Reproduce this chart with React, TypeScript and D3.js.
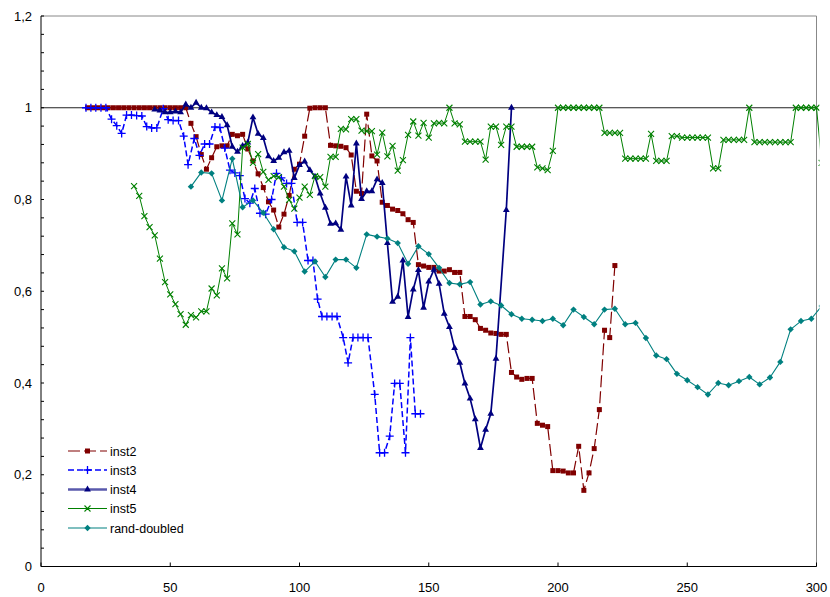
import React from 'react';
import * as d3 from 'd3';

type Pt = [number, number];

// axis ticks
const xTicks = [0, 50, 100, 150, 200, 250, 300];
const yTicks = [0, 0.2, 0.4, 0.6, 0.8, 1, 1.2];
const yTickLabels = ['0', '0,2', '0,4', '0,6', '0,8', '1', '1,2'];

// series values: [x, y]
const inst2: Pt[] = [
  [18, 1], [20, 1], [22, 1], [24, 1], [26, 1], [28, 1], [30, 1], [32, 1], [34, 1], [36, 1],
  [38, 1], [40, 1], [42, 1], [44, 1], [46, 1], [48, 1], [50, 1], [52, 1], [54, 1], [56, 1],
  [58, 0.966], [60, 0.937], [62, 0.898], [64, 0.866], [66, 0.891], [68, 0.915], [70, 0.917],
  [72, 0.917], [74, 0.942], [76, 0.939], [78, 0.942], [80, 0.91], [82, 0.884], [84, 0.856],
  [86, 0.826], [88, 0.795], [90, 0.777], [92, 0.74], [94, 0.768], [96, 0.809], [98, 0.866],
  [100, 0.877], [102, 0.938], [104, 0.999], [106, 1], [108, 1], [110, 1], [112, 0.918],
  [114, 0.917], [116, 0.916], [118, 0.913], [120, 0.897], [122, 0.818], [124, 0.813],
  [126, 0.986], [128, 0.895], [130, 0.884], [132, 0.794], [134, 0.787], [136, 0.779],
  [138, 0.776], [140, 0.769], [142, 0.756], [144, 0.75], [146, 0.658], [148, 0.655],
  [150, 0.652], [152, 0.652], [154, 0.644], [156, 0.644], [158, 0.647], [160, 0.641],
  [162, 0.641], [164, 0.545], [166, 0.545], [168, 0.538], [170, 0.519], [172, 0.515],
  [174, 0.509], [176, 0.508], [178, 0.506], [180, 0.506], [182, 0.423], [184, 0.413],
  [186, 0.408], [188, 0.41], [190, 0.41], [192, 0.312], [194, 0.308], [196, 0.305],
  [198, 0.209], [200, 0.209], [202, 0.208], [204, 0.204], [206, 0.204], [208, 0.262],
  [210, 0.166], [212, 0.204], [214, 0.257], [216, 0.342], [218, 0.515], [220, 0.499],
  [222, 0.656],
];

const inst3: Pt[] = [
  [17.4, 1], [19.3, 1], [21.2, 1], [23.2, 1], [25.1, 1], [27.3, 0.975], [29.3, 0.961],
  [31.2, 0.944], [33.1, 0.984], [35, 0.984], [37, 0.983], [39, 0.982], [40.9, 0.959],
  [42.8, 0.956], [44.8, 0.956], [47.3, 0.998], [49.2, 0.974], [51.1, 0.972], [53.2, 0.972],
  [55.2, 0.938], [56.9, 0.876], [59.3, 0.933], [61.3, 0.896], [63.3, 0.921], [65.2, 0.921],
  [67.3, 0.958], [69.2, 0.957], [71.1, 0.912], [73.1, 0.864], [75, 0.858], [76.9, 0.852],
  [78.9, 0.802], [80.8, 0.792], [82.7, 0.824], [84.7, 0.77], [86.9, 0.768], [89.2, 0.8],
  [91.1, 0.857], [93, 0.847], [95, 0.835], [96.9, 0.835], [99.1, 0.75], [101.2, 0.75],
  [103.3, 0.667], [105.2, 0.667], [107, 0.583], [108.7, 0.545], [110.6, 0.545],
  [112.6, 0.545], [114.5, 0.545], [116.9, 0.499], [118.8, 0.444], [120.7, 0.499],
  [122.6, 0.499], [124.6, 0.499], [126.5, 0.499], [129.1, 0.375], [131, 0.248],
  [132.9, 0.248], [134.9, 0.284], [136.8, 0.399], [138.8, 0.399], [141, 0.248],
  [142.9, 0.499], [144.8, 0.333], [146.8, 0.333],
];

const inst4: Pt[] = [
  [44, 0.996], [46, 0.994], [48, 0.99], [50, 0.99], [52, 0.992], [54, 0.99], [56, 1.007],
  [58, 1], [60, 1.011], [62, 1], [64, 0.999], [66, 0.99], [68, 0.984], [70, 0.98],
  [72, 0.962], [74, 0.915], [76, 0.904], [78, 0.917], [80, 0.924], [82, 0.979], [84, 0.943],
  [86, 0.934], [88, 0.894], [90, 0.884], [92, 0.891], [94, 0.903], [96, 0.906], [98, 0.847],
  [100, 0.875], [102, 0.883], [104, 0.864], [106, 0.85], [108, 0.813], [110, 0.782],
  [112, 0.747], [114, 0.748], [116, 0.734], [118, 0.85], [120, 0.787], [122, 0.922],
  [124, 0.801], [126, 0.818], [128, 0.818], [130, 0.844], [132, 0.836], [134, 0.705],
  [136, 0.577], [138, 0.588], [140, 0.667], [142, 0.544], [144, 0.604], [146, 0.646],
  [148, 0.564], [150, 0.621], [152, 0.647], [154, 0.616], [156, 0.551], [158, 0.522],
  [160, 0.476], [162, 0.444], [164, 0.399], [166, 0.366], [168, 0.321], [170, 0.258],
  [172, 0.298], [174, 0.333], [176, 0.453], [180, 0.777], [182, 1],
];

const inst5: Pt[] = [
  [36, 0.829], [38, 0.808], [40, 0.764], [42, 0.74], [44, 0.722], [46, 0.671], [48, 0.62],
  [50, 0.593], [52, 0.572], [54, 0.55], [56, 0.527], [58, 0.548], [60, 0.543], [62, 0.556],
  [64, 0.556], [66, 0.606], [68, 0.591], [70, 0.65], [72, 0.628], [74, 0.748], [76, 0.724],
  [78, 0.913], [80, 0.921], [82, 0.88], [84, 0.899], [86, 0.86], [88, 0.843], [90, 0.851],
  [92, 0.849], [94, 0.828], [96, 0.799], [98, 0.78], [100, 0.804], [102, 0.828], [104, 0.81],
  [106, 0.851], [108, 0.849], [110, 0.828], [112, 0.893], [114, 0.893], [116, 0.954],
  [118, 0.953], [120, 0.975], [122, 0.975], [124, 0.95], [126, 0.949], [128, 0.949],
  [130, 0.898], [132, 0.946], [134, 0.894], [136, 0.917], [138, 0.863], [140, 0.886],
  [142, 0.941], [144, 0.97], [146, 0.939], [148, 0.967], [150, 0.935], [152, 0.966],
  [154, 0.967], [156, 0.966], [158, 1], [160, 0.966], [162, 0.964], [164, 0.926],
  [166, 0.926], [168, 0.926], [170, 0.926], [172, 0.887], [174, 0.959], [176, 0.959],
  [178, 0.919], [180, 0.959], [182, 0.959], [184, 0.915], [186, 0.915], [188, 0.915],
  [190, 0.915], [192, 0.87], [194, 0.868], [196, 0.864], [198, 0.906], [200, 1], [202, 1],
  [204, 1], [206, 1], [208, 1], [210, 1], [212, 1], [214, 1], [216, 1], [218, 0.945],
  [220, 0.945], [222, 0.945], [224, 0.945], [226, 0.889], [228, 0.889], [230, 0.889],
  [232, 0.889], [234, 0.889], [236, 0.943], [238, 0.884], [240, 0.884], [242, 0.884],
  [244, 0.938], [246, 0.938], [248, 0.935], [250, 0.935], [252, 0.935], [254, 0.935],
  [256, 0.935], [258, 0.935], [260, 0.868], [262, 0.868], [264, 0.93], [266, 0.93],
  [268, 0.93], [270, 0.93], [272, 0.93], [274, 1], [276, 0.925], [278, 0.925], [280, 0.925],
  [282, 0.925], [284, 0.925], [286, 0.925], [288, 0.925], [290, 0.925], [292, 1], [294, 1],
  [296, 1], [298, 1], [300, 1], [302, 0.88],
];

const randDoubled: Pt[] = [
  [58, 0.828], [62, 0.859], [66, 0.857], [70, 0.798], [74, 0.889], [78, 0.783], [82, 0.798],
  [86, 0.771], [90, 0.735], [94, 0.696], [98, 0.687], [102, 0.643], [106, 0.665], [110, 0.631],
  [114, 0.669], [118, 0.669], [122, 0.651], [126, 0.724], [130, 0.719], [134, 0.715],
  [138, 0.705], [142, 0.66], [146, 0.698], [150, 0.681], [154, 0.651], [158, 0.618],
  [162, 0.615], [166, 0.62], [170, 0.571], [174, 0.578], [178, 0.569], [182, 0.55],
  [186, 0.54], [190, 0.538], [194, 0.535], [198, 0.54], [202, 0.526], [206, 0.56],
  [210, 0.544], [214, 0.528], [218, 0.56], [222, 0.562], [226, 0.528], [230, 0.531],
  [234, 0.498], [238, 0.46], [242, 0.452], [246, 0.42], [250, 0.406], [254, 0.391],
  [258, 0.375], [262, 0.4], [266, 0.395], [270, 0.404], [274, 0.413], [278, 0.397],
  [282, 0.412], [286, 0.446], [290, 0.517], [294, 0.535], [298, 0.54], [302, 0.568],
];

const seriesNames = ['inst2', 'inst3', 'inst4', 'inst5', 'rand-doubled'];
const seriesData = [inst2, inst3, inst4, inst5, randDoubled];

type Style = { color: string; width: number; dash?: string; marker: string };
const styles: Style[] = [
  { color: '#800000', width: 1.2, dash: '12,4', marker: 'square' },
  { color: '#0000ff', width: 1.5, dash: '6,3', marker: 'plus' },
  { color: '#000080', width: 1.7, marker: 'triangle' },
  { color: '#008000', width: 1, marker: 'cross' },
  { color: '#008080', width: 1.1, marker: 'diamond' },
];

const W = 830;
const H = 597;
const font = '"Liberation Sans", Arial, sans-serif';

const x = d3.scaleLinear().domain([0, 300]).range([41, 816.5]);
const y = d3.scaleLinear().domain([0, 1.2]).range([566.5, 16]);

const triangle = d3.symbol(d3.symbolTriangle, 20)() as string;

function Marker({ kind, color, cx, cy }: { kind: string; color: string; cx: number; cy: number }) {
  if (kind === 'square') return <rect x={cx - 2.5} y={cy - 2.5} width={5} height={5} fill={color} />;
  if (kind === 'plus')
    return <path d={`M${cx - 4},${cy}H${cx + 4}M${cx},${cy - 4}V${cy + 4}`} stroke={color} strokeWidth={1.3} />;
  if (kind === 'triangle') return <path transform={`translate(${cx},${cy})`} d={triangle} fill={color} />;
  if (kind === 'cross')
    return (
      <path
        d={`M${cx - 3},${cy - 3}L${cx + 3},${cy + 3}M${cx - 3},${cy + 3}L${cx + 3},${cy - 3}`}
        stroke={color}
        strokeWidth={1.1}
      />
    );
  return <path d={`M${cx},${cy - 3.2}L${cx + 3.2},${cy}L${cx},${cy + 3.2}L${cx - 3.2},${cy}Z`} fill={color} />;
}

export default function App() {
  const line = d3
    .line<Pt>()
    .x((d) => x(d[0]))
    .y((d) => y(d[1]));

  const minorY = d3.range(0, 1.2001, 0.04);
  const legendY = [451, 470, 489.5, 508.5, 528];

  return (
    <div style={{ position: 'absolute', left: 0, top: 0 }}>
      <svg width={W} height={H} style={{ display: 'block', background: '#fff' }}>
        <defs>
          <clipPath id="plotclip">
            <rect x={0} y={0} width={819.5} height={H} />
          </clipPath>
        </defs>

        {/* plot frame */}
        <line x1={x(0)} x2={x(300)} y1={y(1.2)} y2={y(1.2)} stroke="#888" strokeWidth={1} />
        <line x1={x(300)} x2={x(300)} y1={y(1.2)} y2={y(0)} stroke="#888" strokeWidth={1} />
        <line x1={x(0)} x2={x(300)} y1={y(1)} y2={y(1)} stroke="#222" strokeWidth={1.2} />

        {/* axes */}
        <line x1={x(0)} x2={x(0)} y1={y(1.2)} y2={y(0)} stroke="#000" strokeWidth={1} />
        <line x1={x(0)} x2={x(300)} y1={y(0)} y2={y(0)} stroke="#000" strokeWidth={1} />
        {minorY.map((v, i) => (
          <line key={'my' + i} x1={x(0)} x2={x(0) + 3} y1={y(v)} y2={y(v)} stroke="#000" strokeWidth={1} />
        ))}
        {xTicks.map((v) => (
          <line key={'xt' + v} x1={x(v)} x2={x(v)} y1={y(0)} y2={y(0) - 4} stroke="#000" strokeWidth={1} />
        ))}
        {yTicks.map((v, i) => (
          <text key={'yl' + v} x={32} y={y(v) + 4.5} textAnchor="end" fontFamily={font} fontSize={13} fill="#000">
            {yTickLabels[i]}
          </text>
        ))}
        {xTicks.map((v) => (
          <text key={'xl' + v} x={x(v)} y={591.5} textAnchor="middle" fontFamily={font} fontSize={13} fill="#000">
            {v}
          </text>
        ))}

        {/* series */}
        <g clipPath="url(#plotclip)">
          {seriesData.map((data, i) => {
            const s = styles[i];
            return (
              <g key={seriesNames[i]}>
                <path
                  d={line(data) as string}
                  fill="none"
                  stroke={s.color}
                  strokeWidth={s.width}
                  strokeDasharray={s.dash}
                  strokeLinejoin="round"
                />
                {data.map((d, j) => (
                  <Marker key={j} kind={s.marker} color={s.color} cx={x(d[0])} cy={y(d[1])} />
                ))}
              </g>
            );
          })}
        </g>

        {/* legend */}
        {seriesNames.map((name, i) => {
          const s = styles[i];
          const ly = legendY[i];
          return (
            <g key={'lg' + name}>
              <line
                x1={68}
                x2={107}
                y1={ly}
                y2={ly}
                stroke={s.color}
                strokeWidth={i === 2 ? 2.5 : s.width}
                strokeOpacity={i === 2 ? 0.65 : 1}
                strokeDasharray={s.dash}
              />
              <Marker kind={s.marker} color={s.color} cx={87.5} cy={ly} />
              <text x={110} y={ly + 4.5} fontFamily={font} fontSize={12.5} fill="#000">
                {name}
              </text>
            </g>
          );
        })}
      </svg>
    </div>
  );
}
